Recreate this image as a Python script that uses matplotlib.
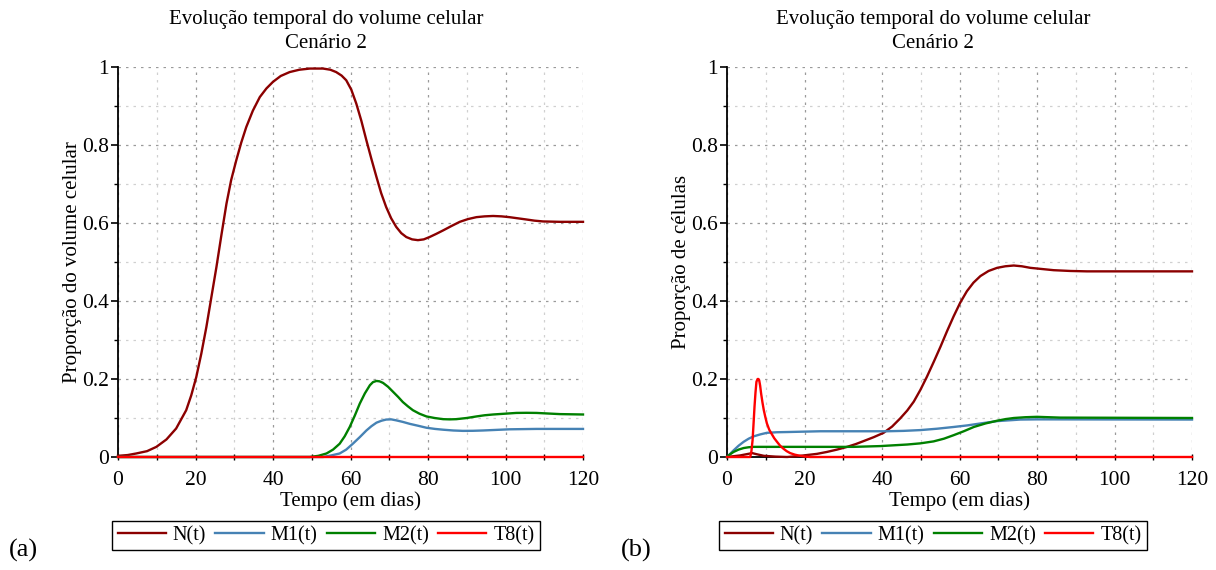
import numpy as np
import matplotlib
matplotlib.use("Agg")
import matplotlib.pyplot as plt
from matplotlib.ticker import MultipleLocator, FixedLocator

plt.rcParams['font.family'] = ['Liberation Serif', 'DejaVu Serif']
plt.rcParams['font.size'] = 15

# ---- panel (a): volume celular ----
tN_a = [0, 2.5, 4.7, 7.5, 9.9, 12.5, 15, 17.6, 18.9, 20.2, 21.5, 22.8, 24.1, 25.4, 26.7, 28,
        29.2, 30.5, 31.8, 33.1, 34.8, 36.6, 38.3, 40, 42, 44.3, 46.8, 49.5, 52.9, 54.8, 56.3,
        57.7, 58.9, 60.2, 61.5, 62.8, 64.1, 65.4, 66.7, 67.9, 69.2, 70.5, 71.8, 73.1, 74.4,
        75.9, 77.4, 78.9, 80.4, 82.1, 83.9, 86, 88.2, 90.3, 92.5, 94.6, 96.8, 99, 101, 103.2,
        105.4, 107.5, 109.7, 114, 120]
N_a = [0.003, 0.005, 0.009, 0.015, 0.026, 0.045, 0.073, 0.12, 0.158, 0.205, 0.265, 0.333,
       0.41, 0.487, 0.57, 0.65, 0.71, 0.76, 0.806, 0.846, 0.888, 0.923, 0.945, 0.962, 0.977,
       0.987, 0.993, 0.996, 0.996, 0.993, 0.987, 0.978, 0.966, 0.942, 0.906, 0.862, 0.812,
       0.764, 0.718, 0.677, 0.641, 0.612, 0.59, 0.574, 0.564, 0.558, 0.556, 0.558, 0.564,
       0.572, 0.581, 0.592, 0.603, 0.61, 0.615, 0.617, 0.618, 0.617, 0.615, 0.612, 0.609,
       0.606, 0.604, 0.603, 0.603]

tM1_a = [0, 52.9, 55, 57.2, 58.9, 60.6, 62.4, 64.1, 65.4, 66.7, 68, 69.2, 70.5, 71.8, 73.5,
         75.3, 77.5, 79.6, 81.8, 83.9, 86.5, 89, 91.6, 94.2, 97.6, 101, 104.5, 108, 120]
M1_a = [0, 0, 0.004, 0.009, 0.019, 0.034, 0.051, 0.068, 0.079, 0.088, 0.093, 0.096, 0.0965,
        0.094, 0.09, 0.085, 0.08, 0.075, 0.072, 0.07, 0.068, 0.067, 0.0672, 0.068, 0.0695,
        0.071, 0.0715, 0.072, 0.072]

tM2_a = [0, 49.5, 51.7, 53.8, 55.5, 57.2, 58.5, 59.8, 61.1, 62.4, 63.7, 65, 65.8, 66.7, 67.5,
         68.4, 69.7, 71, 72.3, 73.5, 74.8, 76.1, 77.8, 79.6, 81.7, 83.9, 85.6, 87.3, 90, 92.5,
         94.6, 96.8, 99.8, 102.8, 105.4, 108, 111, 114, 117, 120]
M2_a = [0, 0, 0.003, 0.009, 0.019, 0.034, 0.053, 0.077, 0.106, 0.137, 0.163, 0.184, 0.192,
        0.195, 0.194, 0.19, 0.18, 0.167, 0.154, 0.141, 0.13, 0.12, 0.111, 0.104, 0.1, 0.097,
        0.0965, 0.097, 0.1, 0.104, 0.107, 0.109, 0.111, 0.113, 0.1133, 0.113, 0.1115, 0.11,
        0.1095, 0.109]

tT8_a = [0, 120]
T8_a = [0, 0]

# ---- panel (b): células ----
tN_b = [0, 3.4, 6.5, 7.7, 9.5, 12.5, 15.5, 18, 20.6, 23.2, 25.8, 28.4, 31, 33.2, 35.3, 37.9,
        40.4, 42.6, 44.7, 46.5, 48.2, 49.9, 51.6, 53.4, 55.1, 56.8, 58.5, 60.2, 61.9, 63.6,
        65.4, 67.5, 69.7, 71.8, 74, 76.1, 78.3, 81.3, 84.3, 88.6, 92.9, 120]
N_b = [0, 0.004, 0.01, 0.007, 0.003, 0.001, 0.0, 0.002, 0.005, 0.008, 0.013, 0.019, 0.026,
       0.033, 0.041, 0.051, 0.062, 0.078, 0.099, 0.119, 0.142, 0.172, 0.206, 0.245, 0.283,
       0.323, 0.361, 0.396, 0.425, 0.447, 0.464, 0.477, 0.485, 0.489, 0.491, 0.489, 0.485,
       0.482, 0.479, 0.477, 0.476, 0.476]

tM1_b = [0, 0.8, 1.7, 3, 4.3, 5.6, 6.9, 8.6, 10.3, 12.9, 15.5, 24.1, 41.3, 45.6, 49.9, 54.2,
         58.5, 62, 65.4, 67.6, 69.7, 72.7, 75.7, 80, 120]
M1_b = [0, 0.008, 0.017, 0.029, 0.039, 0.047, 0.053, 0.058, 0.062, 0.0635, 0.064, 0.066,
        0.066, 0.067, 0.069, 0.0725, 0.077, 0.081, 0.086, 0.089, 0.092, 0.094, 0.096, 0.0965,
        0.096]

tM2_b = [0, 0.8, 1.7, 3, 4.3, 5.6, 6.9, 15.5, 32.7, 36.2, 39.6, 43, 46.5, 49.9, 53.3, 56, 58.5,
         61.1, 63.7, 66.7, 69.7, 71.8, 74, 77, 80, 83, 86, 120]
M2_b = [0, 0.007, 0.013, 0.019, 0.023, 0.025, 0.026, 0.026, 0.026, 0.027, 0.028, 0.03, 0.032,
        0.035, 0.04, 0.047, 0.056, 0.066, 0.077, 0.086, 0.093, 0.097, 0.1, 0.102, 0.103,
        0.102, 0.101, 0.1]

tT8_b = [0, 6, 6.3, 6.6, 6.85, 7.1, 7.35, 7.6, 7.9, 8.1, 8.3, 8.55, 8.8, 9.15, 9.5, 9.9, 10.3,
         10.9, 11.6, 12.2, 12.9, 13.7, 14.6, 15.4, 16.3, 17.5, 18.9, 20.2, 21.5, 120]
T8_b = [0, 0, 0.015, 0.043, 0.085, 0.129, 0.165, 0.193, 0.2, 0.2, 0.197, 0.183, 0.163, 0.14,
        0.12, 0.102, 0.086, 0.07, 0.058, 0.048, 0.039, 0.029, 0.021, 0.015, 0.01, 0.006,
        0.003, 0.001, 0, 0]

labels = ["N(t)", "M1(t)", "M2(t)", "T8(t)"]
colors = ["#8B0000", "#4682B4", "#008000", "#FF0000"]
yticks = [0, 0.2, 0.4, 0.6, 0.8, 1]
yticklabels = ["0", "0.2", "0.4", "0.6", "0.8", "1"]
title = "Evolução temporal do volume celular\nCenário 2"

fig = plt.figure(figsize=(12.16, 5.7), dpi=100)
ax_a = fig.add_axes([118 / 1216, 1 - 457 / 570, 465 / 1216, 390 / 570])
ax_b = fig.add_axes([727 / 1216, 1 - 457 / 570, 465 / 1216, 390 / 570])

panels = [
    (ax_a, [(tN_a, N_a), (tM1_a, M1_a), (tM2_a, M2_a), (tT8_a, T8_a)],
     "Proporção do volume celular", 326, "(a)", 23),
    (ax_b, [(tN_b, N_b), (tM1_b, M1_b), (tM2_b, M2_b), (tT8_b, T8_b)],
     "Proporção de células", 933, "(b)", 636),
]

for ax, series, ylab, cx, tag, tagx in panels:
    lines = []
    for (t, v), c, lab in zip(series, colors, labels):
        ln, = ax.plot(t, v, color=c, lw=1.7, label=lab, clip_on=False, zorder=3,
                      solid_joinstyle='round')
        lines.append(ln)
    ax.set_xlim(0, 120)
    ax.set_ylim(0, 1)
    ax.xaxis.set_major_locator(MultipleLocator(20))
    ax.xaxis.set_minor_locator(MultipleLocator(10))
    ax.yaxis.set_major_locator(FixedLocator(yticks))
    ax.set_yticklabels(yticklabels)
    ax.yaxis.set_minor_locator(MultipleLocator(0.1))
    ax.grid(True, which='major', color='#9a9a9a', ls=(0, (2, 4)), lw=0.9)
    ax.grid(True, which='minor', color='#d0d0d0', ls=(0, (2, 4)), lw=0.9)
    for s in ['top', 'right']:
        ax.spines[s].set_visible(False)
    for s in ['left', 'bottom']:
        ax.spines[s].set_linewidth(1.3)
    ax.tick_params(axis='y', which='major', direction='out', length=5, width=1.2,
                   labelsize=15.5, pad=1.5)
    ax.tick_params(axis='y', which='minor', direction='out', length=3, width=1)
    ax.tick_params(axis='x', which='major', direction='inout', length=5, width=1,
                   labelsize=15.5, pad=7.5)
    ax.tick_params(axis='x', which='minor', direction='inout', length=4, width=1)
    ax.set_xlabel("Tempo (em dias)", fontsize=15, labelpad=1)
    ax.set_ylabel(ylab, fontsize=15, labelpad=0)
    ax.set_title(title, fontsize=15, x=(cx - ax.get_position().x0 * 1216) / 465, pad=14,
                 linespacing=1.3)
    leg = fig.legend(handles=lines, loc='center', ncol=4,
                     bbox_to_anchor=(cx / 1216, 1 - 535.5 / 570), fontsize=14.5,
                     frameon=True, fancybox=False, edgecolor='black', framealpha=1,
                     handlelength=2.4, handletextpad=0.35, columnspacing=0.45,
                     borderpad=0.25, borderaxespad=0)
    leg.get_frame().set_linewidth(1.0)
    fig.text(tagx / 1216, 1 - 550 / 570, tag, fontsize=19, ha='center', va='center')

fig.savefig("out.png", dpi=100)
